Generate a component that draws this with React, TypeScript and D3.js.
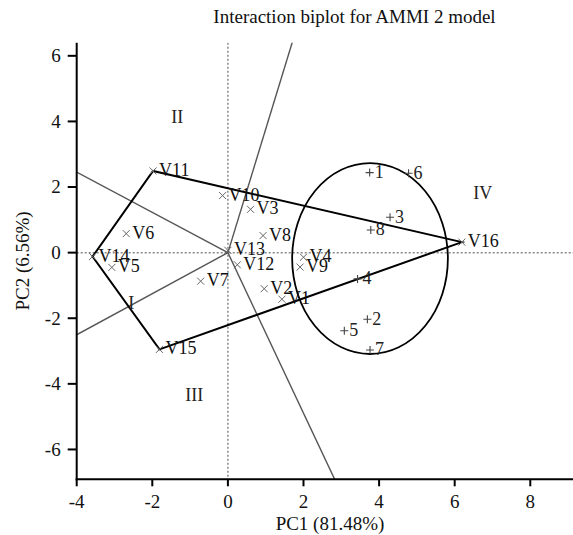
import React from "react";
import * as d3 from "d3";

const genotypes = ["V1","V2","V3","V4","V5","V6","V7","V8","V9","V10","V11","V12","V13","V14","V15","V16"];
const genoPC1 = [1.43, 0.96, 0.60, 2.00, -3.07, -2.69, -0.72, 0.93, 1.91, -0.14, -1.98, 0.25, 0.00, -3.58, -1.81, 6.19];
const genoPC2 = [-1.42, -1.10, 1.32, -0.14, -0.45, 0.58, -0.87, 0.52, -0.44, 1.74, 2.49, -0.37, 0.07, -0.12, -2.95, 0.32];

const environments = ["1","2","3","4","5","6","7","8"];
const envPC1 = [3.75, 3.69, 4.29, 3.43, 3.08, 4.78, 3.76, 3.78];
const envPC2 = [2.44, -2.03, 1.08, -0.80, -2.38, 2.42, -2.97, 0.69];

const sectorLabels = ["I", "II", "III", "IV"];
const sectorPC1 = [-2.56, -1.34, -0.89, 6.74];
const sectorPC2 = [-1.54, 4.13, -4.34, 1.81];

const ellipseCenter = [3.76, -0.18];
const ellipseRadii = [2.06, 2.91];

const xTicks = [-4, -2, 0, 2, 4, 6, 8];
const yTicks = [-6, -4, -2, 0, 2, 4, 6];

const W = 573, H = 535;
const FONT = "'Liberation Serif', 'Times New Roman', serif";

export default function App() {
  const x = d3.scaleLinear().domain([-4, 9.13]).range([76.7, 573]);
  const y = d3.scaleLinear().domain([-6.91, 6.4]).range([479.3, 42.7]);

  const pts: [number, number][] = genoPC1.map((v, i) => [v, genoPC2[i]]);
  const hull = d3.polygonHull(pts) || [];
  const hullPath = d3.line()(hull.map(p => [x(p[0]), y(p[1])]) as [number, number][]) + "Z";

  // sector rays perpendicular to hull edges through origin
  const rays: [number, number][] = [];
  for (let i = 0; i < hull.length; i++) {
    const a = hull[i], b = hull[(i + 1) % hull.length];
    const dx = b[0] - a[0], dy = b[1] - a[1];
    const t = -(a[0] * dx + a[1] * dy) / (dx * dx + dy * dy);
    const fx = a[0] + t * dx, fy = a[1] + t * dy;
    const len = Math.hypot(fx, fy);
    rays.push([(fx / len) * 30, (fy / len) * 30]);
  }

  const [x0, x1] = x.range();
  const [y0, y1] = [y(6.4), y(-6.91)];

  return (
    <svg width={W} height={H} style={{ position: "absolute", left: 0, top: 0, display: "block", background: "#fff" }} fontFamily={FONT}>
      <defs>
        <clipPath id="plotclip">
          <rect x={x0} y={y0} width={x1 - x0} height={y1 - y0} />
        </clipPath>
      </defs>
      <text x={354.5} y={23} fontSize={19} textAnchor="middle" fill="#111">Interaction biplot for AMMI 2 model</text>

      <g clipPath="url(#plotclip)">
        <line x1={x(0)} x2={x(0)} y1={y0} y2={y1} stroke="#888" strokeWidth={1.5} strokeDasharray="2,2" />
        <line x1={x0} x2={x1} y1={y(0)} y2={y(0)} stroke="#888" strokeWidth={1.5} strokeDasharray="2,2" />
        {rays.map((r, i) => (
          <line key={i} x1={x(0)} y1={y(0)} x2={x(r[0])} y2={y(r[1])} stroke="#555" strokeWidth={1.4} />
        ))}
        <path d={hullPath} fill="none" stroke="#000" strokeWidth={2} strokeLinejoin="miter" />
        <ellipse cx={x(ellipseCenter[0])} cy={y(ellipseCenter[1])}
          rx={x(ellipseCenter[0] + ellipseRadii[0]) - x(ellipseCenter[0])}
          ry={y(ellipseCenter[1]) - y(ellipseCenter[1] + ellipseRadii[1])}
          fill="none" stroke="#000" strokeWidth={1.8} />
      </g>

      {sectorLabels.map((s, i) => (
        <text key={s} x={x(sectorPC1[i])} y={y(sectorPC2[i])} dy="0.33em" fontSize={18} textAnchor="middle" fill="#222">{s}</text>
      ))}

      {genotypes.map((g, i) => {
        const px = x(genoPC1[i]), py = y(genoPC2[i]);
        return (
          <g key={g}>
            <path d={`M${px - 3.5},${py - 3.5}L${px + 3.5},${py + 3.5}M${px - 3.5},${py + 3.5}L${px + 3.5},${py - 3.5}`} stroke="#666" strokeWidth={1} />
            <text x={px + 6} y={py} dy="0.28em" fontSize={18} fill="#111">{g}</text>
          </g>
        );
      })}

      {environments.map((e, i) => {
        const px = x(envPC1[i]), py = y(envPC2[i]);
        return (
          <g key={e}>
            <path d={`M${px - 4},${py}H${px + 4}M${px},${py - 4}V${py + 4}`} stroke="#444" strokeWidth={1.1} />
            <text x={px + 5} y={py} dy="0.3em" fontSize={18} fill="#222">{e}</text>
          </g>
        );
      })}

      {/* axes */}
      <line x1={x0} x2={x0} y1={y0} y2={y1 + 1} stroke="#000" strokeWidth={2} />
      <line x1={x0 - 1} x2={x1} y1={y1} y2={y1} stroke="#000" strokeWidth={2} />
      {yTicks.map(t => (
        <g key={"y" + t}>
          <line x1={x0 - 9} x2={x0} y1={y(t)} y2={y(t)} stroke="#000" strokeWidth={2} />
          <text x={x0 - 16} y={y(t)} dy="0.34em" fontSize={19} textAnchor="end" fill="#111">{t}</text>
        </g>
      ))}
      {xTicks.map(t => (
        <g key={"x" + t}>
          <line x1={x(t)} x2={x(t)} y1={y1} y2={y1 + 7} stroke="#000" strokeWidth={2} />
          <text x={x(t)} y={508} fontSize={19} textAnchor="middle" fill="#111">{t}</text>
        </g>
      ))}
      <text x={330} y={530} fontSize={19} textAnchor="middle" fill="#111">PC1 (81.48%)</text>
      <text transform="translate(29,261) rotate(-90)" fontSize={19} textAnchor="middle" fill="#111">PC2 (6.56%)</text>
    </svg>
  );
}
